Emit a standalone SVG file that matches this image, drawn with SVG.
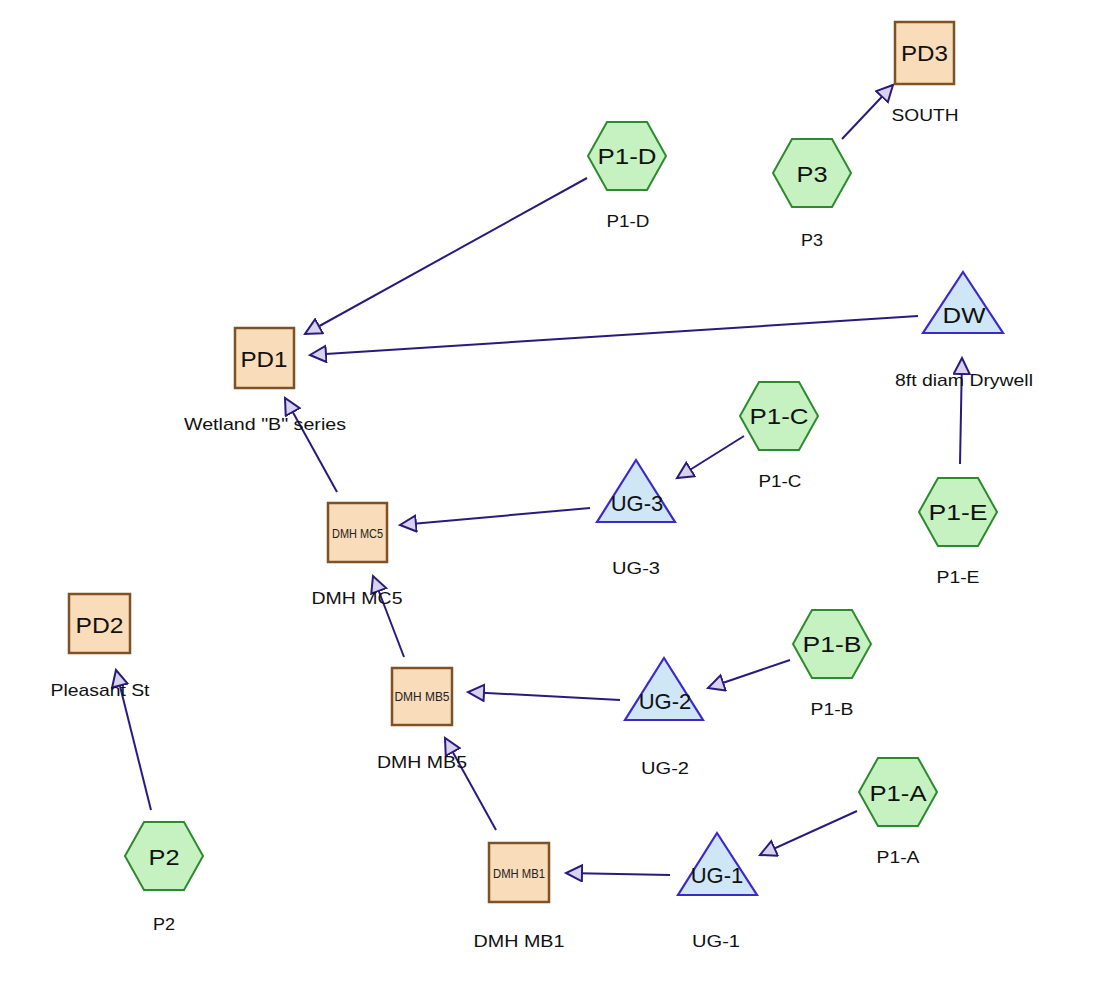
<svg xmlns="http://www.w3.org/2000/svg" width="1106" height="993" viewBox="0 0 1106 993">
<style>
.hex{fill:#c6f2c2;stroke:#2e8a2e;stroke-width:2}
.box{fill:#f9dcb9;stroke:#7f5226;stroke-width:2.5}
.tri{fill:#cfe6f6;stroke:#3b29cc;stroke-width:2.2}
.in{font-family:"Liberation Sans",Arial,sans-serif;font-size:22px;fill:#111;text-anchor:middle}
.sm{font-family:"Liberation Sans",Arial,sans-serif;font-size:12px;fill:#222;text-anchor:middle}
.lb{font-family:"Liberation Sans",Arial,sans-serif;font-size:17px;fill:#111;text-anchor:middle}
.edge{stroke:#2a1a7c;stroke-width:2;fill:none;marker-end:url(#arr)}
</style>
<defs>
<marker id="arr" markerUnits="userSpaceOnUse" markerWidth="22" markerHeight="22" refX="17" refY="9" orient="auto">
<path d="M1,1 L17,9 L1,17 z" fill="#d8d2ec" stroke="#2a1a7c" stroke-width="2"/>
</marker>
<polygon id="hx" points="-39,0 -20,-34 20,-34 39,0 20,34 -20,34"/>
</defs>
<rect width="1106" height="993" fill="#fff"/>
<g id="connectors">
<line class="edge" x1="587" y1="178" x2="305" y2="334"/>
<line class="edge" x1="918" y1="316" x2="310" y2="355"/>
<line class="edge" x1="337" y1="492" x2="285" y2="398"/>
<line class="edge" x1="744" y1="436" x2="677" y2="478"/>
<line class="edge" x1="590" y1="508" x2="400" y2="525"/>
<line class="edge" x1="960" y1="464" x2="962" y2="358"/>
<line class="edge" x1="842" y1="139" x2="893" y2="85"/>
<line class="edge" x1="404" y1="657" x2="373" y2="576"/>
<line class="edge" x1="620" y1="700" x2="468" y2="692"/>
<line class="edge" x1="790" y1="660" x2="708" y2="688"/>
<line class="edge" x1="496" y1="830" x2="445" y2="738"/>
<line class="edge" x1="670" y1="875" x2="566" y2="873"/>
<line class="edge" x1="857" y1="811" x2="760" y2="855"/>
<line class="edge" x1="151" y1="810" x2="116" y2="670"/>
</g>
<g id="PD3">
<rect class="box" x="895" y="22" width="59" height="62"/>
<text class="in" x="924.5" y="61" textLength="47" lengthAdjust="spacingAndGlyphs">PD3</text>
<text class="lb" x="925" y="121" textLength="67" lengthAdjust="spacingAndGlyphs">SOUTH</text>
</g>
<g id="P1-D">
<use href="#hx" class="hex" x="627" y="156"/>
<text class="in" x="627" y="164" textLength="59" lengthAdjust="spacingAndGlyphs">P1-D</text>
<text class="lb" x="628" y="227" textLength="43" lengthAdjust="spacingAndGlyphs">P1-D</text>
</g>
<g id="P3">
<use href="#hx" class="hex" x="812" y="173"/>
<text class="in" x="812" y="182" textLength="31" lengthAdjust="spacingAndGlyphs">P3</text>
<text class="lb" x="812" y="246" textLength="22" lengthAdjust="spacingAndGlyphs">P3</text>
</g>
<g id="PD1">
<rect class="box" x="235" y="328" width="59" height="60"/>
<text class="in" x="264" y="367" textLength="47" lengthAdjust="spacingAndGlyphs">PD1</text>
<text class="lb" x="265" y="430" textLength="162" lengthAdjust="spacingAndGlyphs">Wetland "B" series</text>
</g>
<g id="DW">
<polygon class="tri" points="963,272 1003,333 923,333"/>
<text class="in" x="964" y="323" textLength="43" lengthAdjust="spacingAndGlyphs">DW</text>
<text class="lb" x="964" y="386" textLength="138" lengthAdjust="spacingAndGlyphs">8ft diam Drywell</text>
</g>
<g id="P1-C">
<use href="#hx" class="hex" x="779" y="416"/>
<text class="in" x="779" y="424" textLength="59" lengthAdjust="spacingAndGlyphs">P1-C</text>
<text class="lb" x="780" y="487" textLength="43" lengthAdjust="spacingAndGlyphs">P1-C</text>
</g>
<g id="UG-3">
<polygon class="tri" points="636,460 675,522 597,522"/>
<text class="in" x="637" y="511" font-size="20">UG-3</text>
<text class="lb" x="636" y="574" textLength="48" lengthAdjust="spacingAndGlyphs">UG-3</text>
</g>
<g id="DMH_MC5">
<rect class="box" x="328" y="503" width="59" height="59"/>
<text class="sm" x="357.5" y="538" textLength="51" lengthAdjust="spacingAndGlyphs">DMH MC5</text>
<text class="lb" x="357" y="604" textLength="91" lengthAdjust="spacingAndGlyphs">DMH MC5</text>
</g>
<g id="P1-E">
<use href="#hx" class="hex" x="958" y="512"/>
<text class="in" x="958" y="520" textLength="59" lengthAdjust="spacingAndGlyphs">P1-E</text>
<text class="lb" x="958" y="583" textLength="43" lengthAdjust="spacingAndGlyphs">P1-E</text>
</g>
<g id="PD2">
<rect class="box" x="69" y="594" width="61" height="59"/>
<text class="in" x="99.5" y="633" textLength="48" lengthAdjust="spacingAndGlyphs">PD2</text>
<text class="lb" x="100" y="696" textLength="99" lengthAdjust="spacingAndGlyphs">Pleasant St</text>
</g>
<g id="P1-B">
<use href="#hx" class="hex" x="832" y="644"/>
<text class="in" x="832" y="652" textLength="59" lengthAdjust="spacingAndGlyphs">P1-B</text>
<text class="lb" x="832" y="715" textLength="43" lengthAdjust="spacingAndGlyphs">P1-B</text>
</g>
<g id="UG-2">
<polygon class="tri" points="664,658 703,720 625,720"/>
<text class="in" x="665" y="709" font-size="20">UG-2</text>
<text class="lb" x="665" y="774" textLength="48" lengthAdjust="spacingAndGlyphs">UG-2</text>
</g>
<g id="DMH_MB5">
<rect class="box" x="392" y="668" width="60" height="57"/>
<text class="sm" x="422" y="701" textLength="55" lengthAdjust="spacingAndGlyphs">DMH MB5</text>
<text class="lb" x="422" y="768" textLength="90" lengthAdjust="spacingAndGlyphs">DMH MB5</text>
</g>
<g id="P1-A">
<use href="#hx" class="hex" x="898" y="792"/>
<text class="in" x="898" y="801" textLength="57" lengthAdjust="spacingAndGlyphs">P1-A</text>
<text class="lb" x="898" y="863" textLength="43" lengthAdjust="spacingAndGlyphs">P1-A</text>
</g>
<g id="UG-1">
<polygon class="tri" points="717,833 757,895 678,895"/>
<text class="in" x="717" y="883" font-size="20">UG-1</text>
<text class="lb" x="716" y="947" textLength="48" lengthAdjust="spacingAndGlyphs">UG-1</text>
</g>
<g id="DMH_MB1">
<rect class="box" x="489" y="843" width="60" height="59"/>
<text class="sm" x="519" y="878" textLength="52" lengthAdjust="spacingAndGlyphs">DMH MB1</text>
<text class="lb" x="519" y="947" textLength="91" lengthAdjust="spacingAndGlyphs">DMH MB1</text>
</g>
<g id="P2">
<use href="#hx" class="hex" x="164" y="856"/>
<text class="in" x="164" y="865" textLength="31" lengthAdjust="spacingAndGlyphs">P2</text>
<text class="lb" x="164" y="930" textLength="22" lengthAdjust="spacingAndGlyphs">P2</text>
</g>
</svg>
